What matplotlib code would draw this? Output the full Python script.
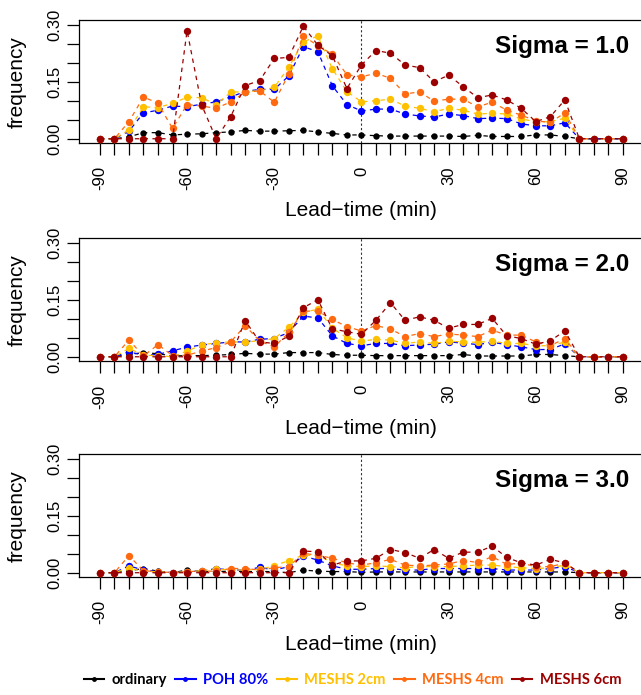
import matplotlib
matplotlib.use("Agg")
import matplotlib.pyplot as plt
from matplotlib.lines import Line2D

plt.rcParams['font.family'] = ['Liberation Sans', 'DejaVu Sans']

lead = [-90, -85, -80, -75, -70, -65, -60, -55, -50, -45, -40, -35, -30, -25, -20, -15, -10, -5,
        0, 5, 10, 15, 20, 25, 30, 35, 40, 45, 50, 55, 60, 65, 70, 75, 80, 85, 90]

names = ['ordinary', 'POH 80%', 'MESHS 2cm', 'MESHS 4cm', 'MESHS 6cm']
colors = ['#000000', '#0000FF', '#FFC000', '#FF6A10', '#9B0000']
sigmas = ['Sigma = 1.0', 'Sigma = 2.0', 'Sigma = 3.0']

# sigma = 1.0
ord1 = [0, 0, 0.005, 0.016, 0.016, 0.010, 0.012, 0.013, 0.016, 0.018, 0.022, 0.020, 0.020, 0.021, 0.022, 0.018, 0.014, 0.010,
        0.010, 0.008, 0.007, 0.007, 0.007, 0.007, 0.007, 0.006, 0.009, 0.006, 0.006, 0.006, 0.010, 0.010, 0.006, 0, 0, 0, 0]
poh1 = [0, 0, 0.020, 0.068, 0.075, 0.086, 0.084, 0.091, 0.097, 0.110, 0.124, 0.130, 0.130, 0.165, 0.242, 0.229, 0.139, 0.090,
        0.073, 0.078, 0.078, 0.065, 0.060, 0.057, 0.065, 0.061, 0.053, 0.054, 0.053, 0.039, 0.034, 0.034, 0.042, 0, 0, 0, 0]
yel1 = [0, 0, 0.023, 0.084, 0.082, 0.093, 0.109, 0.108, 0.090, 0.122, 0.124, 0.126, 0.135, 0.188, 0.255, 0.270, 0.184, 0.124,
        0.097, 0.100, 0.104, 0.086, 0.080, 0.071, 0.080, 0.075, 0.065, 0.067, 0.065, 0.052, 0.045, 0.045, 0.054, 0, 0, 0, 0]
ora1 = [0, 0, 0.045, 0.110, 0.093, 0.027, 0.090, 0.086, 0.080, 0.097, 0.122, 0.126, 0.096, 0.170, 0.270, 0.245, 0.222, 0.168,
        0.163, 0.172, 0.159, 0.118, 0.123, 0.099, 0.104, 0.104, 0.084, 0.096, 0.075, 0.062, 0.047, 0.043, 0.068, 0, 0, 0, 0]
mar1 = [0, 0, 0, 0, 0, 0, 0.284, 0.089, 0, 0.058, 0.140, 0.153, 0.211, 0.214, 0.296, 0.246, 0.218, 0.132,
        0.194, 0.232, 0.225, 0.194, 0.187, 0.150, 0.167, 0.137, 0.108, 0.115, 0.102, 0.080, 0.045, 0.058, 0.102, 0, 0, 0, 0]

# sigma = 2.0
ord2 = [0, 0, 0.006, 0.011, 0.008, 0.002, 0.003, 0.003, 0.004, 0.006, 0.009, 0.007, 0.007, 0.011, 0.011, 0.011, 0.006, 0.004,
        0.004, 0.003, 0.003, 0.003, 0.003, 0.003, 0.003, 0.006, 0.002, 0.002, 0.002, 0.002, 0.006, 0.006, 0.003, 0, 0, 0, 0]
poh2 = [0, 0, 0.013, 0.004, 0.006, 0.016, 0.025, 0.031, 0.035, 0.039, 0.039, 0.046, 0.048, 0.064, 0.107, 0.102, 0.055, 0.035,
        0.029, 0.035, 0.035, 0.029, 0.031, 0.033, 0.039, 0.036, 0.032, 0.038, 0.032, 0.026, 0.019, 0.019, 0.034, 0, 0, 0, 0]
yel2 = [0, 0, 0.022, 0.004, 0.003, 0.000, 0.015, 0.031, 0.037, 0.039, 0.039, 0.042, 0.048, 0.077, 0.117, 0.125, 0.075, 0.050,
        0.041, 0.046, 0.044, 0.035, 0.039, 0.035, 0.041, 0.039, 0.038, 0.041, 0.035, 0.035, 0.029, 0.029, 0.039, 0, 0, 0, 0]
ora2 = [0, 0, 0.044, 0.002, 0.032, 0.003, 0.004, 0.015, 0.024, 0.039, 0.082, 0.041, 0.026, 0.064, 0.120, 0.120, 0.098, 0.079,
        0.068, 0.082, 0.073, 0.053, 0.061, 0.053, 0.060, 0.057, 0.053, 0.070, 0.057, 0.057, 0.039, 0.029, 0.048, 0, 0, 0, 0]
mar2 = [0, 0, 0, 0, 0, 0, 0, 0, 0, 0, 0.095, 0.039, 0.035, 0.054, 0.129, 0.150, 0.073, 0.066,
        0.059, 0.096, 0.142, 0.096, 0.105, 0.096, 0.075, 0.085, 0.085, 0.101, 0.055, 0.048, 0.033, 0.042, 0.068, 0, 0, 0, 0]

# sigma = 3.0
ord3 = [0, 0, 0.005, 0.011, 0.004, 0, 0.007, 0.003, 0.003, 0.004, 0.003, 0.003, 0.003, 0, 0.007, 0.004, 0.003, 0.003,
        0.001, 0.002, 0.002, 0.002, 0.002, 0.002, 0.002, 0.002, 0.002, 0.002, 0.002, 0.002, 0.002, 0.002, 0.002, 0, 0, 0, 0]
poh3 = [0, 0, 0.018, 0.007, 0.003, 0, 0.003, 0.004, 0.011, 0.007, 0.007, 0.014, 0.007, 0.016, 0.044, 0.033, 0.018, 0.009,
        0.009, 0.011, 0.011, 0.007, 0.007, 0.011, 0.011, 0.011, 0.011, 0.011, 0.007, 0.007, 0.007, 0.011, 0.016, 0, 0, 0, 0]
yel3 = [0, 0, 0.013, 0.003, 0.003, 0, 0.003, 0.005, 0.010, 0.007, 0.007, 0.009, 0.018, 0.032, 0.046, 0.046, 0.026, 0.018,
        0.016, 0.018, 0.016, 0.013, 0.016, 0.016, 0.016, 0.018, 0.020, 0.020, 0.016, 0.013, 0.011, 0.013, 0.020, 0, 0, 0, 0]
ora3 = [0, 0, 0.045, 0.005, 0.003, 0, 0.003, 0.004, 0.004, 0.011, 0.011, 0.007, 0.013, 0.016, 0.051, 0.046, 0.038, 0.026,
        0.020, 0.026, 0.035, 0.020, 0.018, 0.020, 0.023, 0.032, 0.027, 0.042, 0.022, 0.025, 0.016, 0.016, 0.025, 0, 0, 0, 0]
mar3 = [0, 0, 0, 0, 0, 0, 0, 0, 0, 0, 0, 0, 0, 0, 0.057, 0.055, 0.020, 0.031,
        0.031, 0.038, 0.061, 0.053, 0.038, 0.061, 0.038, 0.054, 0.054, 0.070, 0.040, 0.026, 0.020, 0.035, 0.026, 0, 0, 0, 0]

panels = [[ord1, poh1, yel1, ora1, mar1],
          [ord2, poh2, yel2, ora2, mar2],
          [ord3, poh3, yel3, ora3, mar3]]

xticks = list(range(-90, 95, 5))
xlabels = [str(t) if t % 30 == 0 else '' for t in xticks]
yticks = [0, 0.05, 0.10, 0.15, 0.20, 0.25, 0.30]
ylabels = ['0.00', '', '', '0.15', '', '', '0.30']

fig = plt.figure(figsize=(6.41, 6.95), dpi=100)
bottoms = [0.7938, 0.4801, 0.1694]

for k in range(3):
    ax = fig.add_axes([0.1232, bottoms[k], 0.8813, 0.1773])
    ax.axvline(0, color='#333333', lw=0.8, ls=(0, (2, 2)), zorder=1)
    for j in range(5):
        ms = 4.6 if j == 0 else 5.3
        ax.plot(lead, panels[k][j], color=colors[j], ls=(0, (3.5, 3.5)), lw=0.9,
                marker='o', ms=ms, mew=0, zorder=2 + j)
    ax.set_xlim(-97.2, 97.2)
    ax.set_ylim(-0.012, 0.312)
    ax.set_xticks(xticks)
    ax.set_xticklabels(xlabels, rotation=90, fontsize=12)
    ax.set_yticks(yticks)
    ax.set_yticklabels(ylabels, rotation=90, va='center', fontsize=12)
    ax.tick_params(axis='x', length=8.6, width=0.9, pad=8)
    ax.tick_params(axis='y', length=8.6, width=0.9, pad=3)
    for s in ax.spines.values():
        s.set_linewidth(0.9)
    ax.set_xlabel('Lead\u2212time (min)', fontsize=15)
    ax.xaxis.set_label_coords(0.5, -0.47)
    ax.set_ylabel('frequency', fontsize=15, va='center')
    ax.yaxis.set_label_coords(-0.11, 0.5)
    ax.text(92, 0.243, sigmas[k], ha='right', va='center', fontsize=17.5, fontweight='bold')

handles = [Line2D([], [], color=c, lw=1.5, marker='o', ms=3.5, mew=0) for c in colors]
leg = fig.legend(handles, names, loc='center', bbox_to_anchor=(0.55, 0.021), ncol=5, frameon=False,
                 handlelength=1.4, handletextpad=0.5, columnspacing=0.55,
                 prop={'family': 'Lato', 'weight': 'bold', 'size': 10.6})
for t, c in zip(leg.get_texts(), colors):
    t.set_color(c)

plt.savefig('out.png', dpi=100)
